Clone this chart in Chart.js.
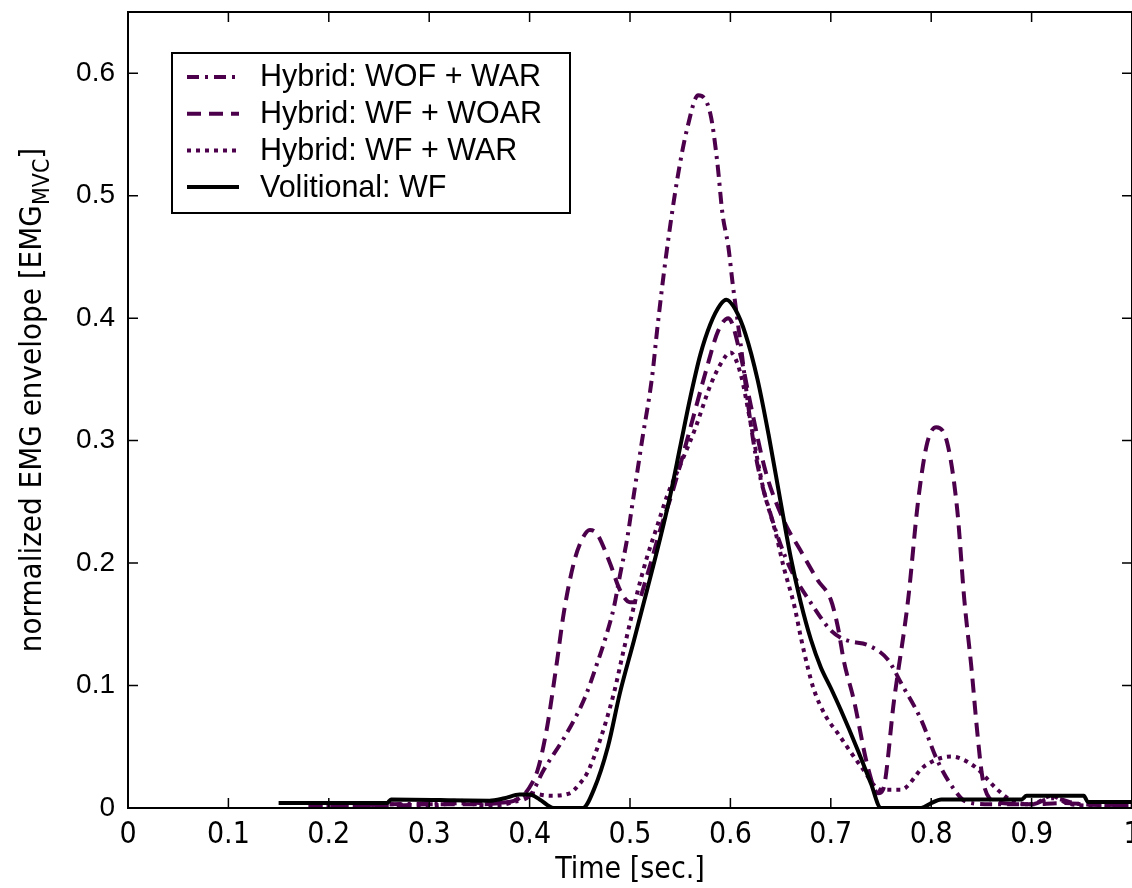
<!DOCTYPE html>
<html>
<head>
<meta charset="utf-8">
<script src="https://cdn.jsdelivr.net/npm/chart.js@4.4.1/dist/chart.umd.min.js"></script>
<style>
  html, body { margin: 0; padding: 0; background: #fff; }
  #wrap { width: 1132px; height: 888px; }
</style>
</head>
<body>
<div id="wrap"><canvas id="emg"></canvas></div>
<script>
// series names, in legend order
const seriesLabels = ['Hybrid: WOF + WAR', 'Hybrid: WF + WOAR', 'Hybrid: WF + WAR', 'Volitional: WF'];

// Hybrid: WOF + WAR (dash-dot)
const wofWarTime = [0.18, 0.22, 0.26, 0.30, 0.33, 0.35, 0.38, 0.40, 0.414, 0.437, 0.455, 0.466, 0.476, 0.484, 0.49, 0.497, 0.502, 0.507, 0.512, 0.522, 0.527, 0.535, 0.547, 0.557, 0.568, 0.58, 0.587, 0.592, 0.598, 0.602, 0.61, 0.62, 0.627, 0.64, 0.65, 0.66, 0.683, 0.70, 0.71, 0.72, 0.737, 0.757, 0.77, 0.79, 0.806, 0.823, 0.835, 0.86, 0.90, 0.92, 0.95, 1.0];
const wofWarValue = [0.002, 0.002, 0.003, 0.004, 0.006, 0.004, 0.005, 0.010, 0.031, 0.061, 0.090, 0.115, 0.140, 0.164, 0.190, 0.219, 0.246, 0.273, 0.300, 0.352, 0.390, 0.445, 0.513, 0.555, 0.582, 0.567, 0.527, 0.486, 0.458, 0.430, 0.380, 0.315, 0.280, 0.240, 0.215, 0.195, 0.164, 0.145, 0.139, 0.136, 0.133, 0.121, 0.102, 0.072, 0.039, 0.015, 0.005, 0.003, 0.003, 0.008, 0.003, 0.002];

// Hybrid: WF + WOAR (dashed)
const wfWoarTime = [0.18, 0.22, 0.26, 0.30, 0.34, 0.37, 0.39, 0.40, 0.408, 0.417, 0.427, 0.434, 0.444, 0.452, 0.46, 0.467, 0.48, 0.49, 0.50, 0.507, 0.517, 0.53, 0.543, 0.56, 0.575, 0.588, 0.598, 0.61, 0.62, 0.635, 0.653, 0.67, 0.687, 0.70, 0.707, 0.713, 0.723, 0.737, 0.747, 0.752, 0.763, 0.777, 0.787, 0.796, 0.805, 0.816, 0.826, 0.833, 0.84, 0.846, 0.851, 0.858, 0.87, 0.90, 0.93, 0.96, 1.0];
const wfWoarValue = [0.002, 0.002, 0.002, 0.003, 0.003, 0.004, 0.008, 0.017, 0.031, 0.064, 0.118, 0.159, 0.200, 0.219, 0.227, 0.224, 0.200, 0.178, 0.168, 0.168, 0.190, 0.227, 0.260, 0.310, 0.355, 0.390, 0.400, 0.370, 0.330, 0.275, 0.235, 0.210, 0.186, 0.170, 0.148, 0.120, 0.088, 0.033, 0.012, 0.015, 0.088, 0.170, 0.251, 0.298, 0.311, 0.298, 0.243, 0.170, 0.115, 0.061, 0.025, 0.008, 0.004, 0.003, 0.004, 0.003, 0.002];

// Hybrid: WF + WAR (dotted)
const wfWarTime = [0.18, 0.22, 0.26, 0.30, 0.33, 0.36, 0.38, 0.40, 0.42, 0.44, 0.45, 0.457, 0.47, 0.484, 0.494, 0.507, 0.517, 0.527, 0.537, 0.55, 0.565, 0.58, 0.592, 0.60, 0.61, 0.62, 0.633, 0.645, 0.653, 0.664, 0.67, 0.677, 0.683, 0.695, 0.707, 0.73, 0.75, 0.77, 0.793, 0.82, 0.843, 0.866, 0.88, 0.90, 0.92, 0.935, 0.96, 1.0];
const wfWarValue = [0.002, 0.002, 0.003, 0.002, 0.004, 0.002, 0.004, 0.012, 0.010, 0.012, 0.020, 0.028, 0.055, 0.094, 0.130, 0.175, 0.205, 0.230, 0.255, 0.280, 0.310, 0.345, 0.365, 0.372, 0.355, 0.315, 0.260, 0.225, 0.197, 0.164, 0.140, 0.115, 0.097, 0.075, 0.061, 0.034, 0.015, 0.015, 0.034, 0.042, 0.034, 0.015, 0.006, 0.003, 0.010, 0.004, 0.002, 0.002];

// Volitional: WF (solid)
const volTime = [0.15, 0.258, 0.262, 0.36, 0.375, 0.39, 0.40, 0.41, 0.424, 0.453, 0.464, 0.478, 0.49, 0.504, 0.517, 0.53, 0.54, 0.55, 0.56, 0.57, 0.58, 0.59, 0.596, 0.605, 0.615, 0.627, 0.638, 0.65, 0.66, 0.67, 0.68, 0.69, 0.70, 0.71, 0.727, 0.74, 0.75, 0.79, 0.80, 0.81, 0.89, 0.895, 0.952, 0.956, 1.0];
const volValue = [0.004, 0.004, 0.007, 0.006, 0.008, 0.011, 0.011, 0.007, 0.0, 0.0, 0.015, 0.050, 0.094, 0.137, 0.178, 0.220, 0.255, 0.295, 0.335, 0.370, 0.395, 0.411, 0.415, 0.407, 0.387, 0.350, 0.305, 0.250, 0.205, 0.168, 0.138, 0.115, 0.098, 0.080, 0.047, 0.020, 0.0, 0.0, 0.004, 0.007, 0.007, 0.010, 0.010, 0.005, 0.005];

// x tick labels, matlab style: 0, 0.1, ... 1
const timeTickLabels = ['0', '0.1', '0.2', '0.3', '0.4', '0.5', '0.6', '0.7', '0.8', '0.9', '1'];

const PURPLE = '#4c004c';
const TICK_FONT = '"Liberation Sans", Arial, sans-serif';
const NARROW_FONT = '"Liberation Sans Narrow", "DejaVu Sans Condensed", "Arial Narrow", sans-serif';

const toPoints = (t, v) => t.map((x, i) => ({ x: x, y: v[i] }));

const lineStyle = (color, dash) => ({
  borderColor: color,
  backgroundColor: color,
  borderWidth: 4,
  borderDash: dash,
  borderCapStyle: 'butt',
  pointRadius: 0,
  fill: false,
  cubicInterpolationMode: 'monotone'
});

const datasets = [
  { label: seriesLabels[0], data: toPoints(wofWarTime, wofWarValue), order: 1, ...lineStyle(PURPLE, [12, 6, 3, 6]) },
  { label: seriesLabels[1], data: toPoints(wfWoarTime, wfWoarValue), order: 1, ...lineStyle(PURPLE, [14, 8]) },
  { label: seriesLabels[2], data: toPoints(wfWarTime, wfWarValue), order: 1, ...lineStyle(PURPLE, [4, 5]) },
  { label: seriesLabels[3], data: toPoints(volTime, volValue), order: 0, ...lineStyle('#000', []) }
];

// box, inward ticks, legend and y title (with subscript) - matlab look
const framePlugin = {
  id: 'frame',
  afterDraw(chart) {
    const { ctx, chartArea: a, scales } = chart;
    const x = scales.x, y = scales.y;
    ctx.save();
    ctx.strokeStyle = '#000';
    ctx.lineWidth = 2;
    ctx.setLineDash([]);
    ctx.strokeRect(a.left, a.top, a.right - a.left, a.bottom - a.top);

    ctx.lineWidth = 1.5;
    ctx.beginPath();
    x.ticks.forEach(t => {
      const px = x.getPixelForValue(t.value);
      ctx.moveTo(px, a.bottom); ctx.lineTo(px, a.bottom - 10);
      ctx.moveTo(px, a.top); ctx.lineTo(px, a.top + 10);
    });
    y.ticks.forEach(t => {
      const py = y.getPixelForValue(t.value);
      ctx.moveTo(a.left, py); ctx.lineTo(a.left + 10, py);
      ctx.moveTo(a.right, py); ctx.lineTo(a.right - 10, py);
    });
    ctx.stroke();

    // legend
    const lx = a.left + 44, ly = a.top + 41, lw = 398, lh = 160;
    ctx.fillStyle = '#fff';
    ctx.fillRect(lx, ly, lw, lh);
    ctx.lineWidth = 2;
    ctx.strokeRect(lx, ly, lw, lh);
    ctx.font = '30.5px ' + TICK_FONT;
    ctx.textBaseline = 'middle';
    ctx.textAlign = 'left';
    chart.data.datasets.forEach((ds, i) => {
      const cy = ly + 24 + i * 36.7;
      ctx.strokeStyle = ds.borderColor;
      ctx.lineWidth = ds.borderWidth;
      ctx.lineCap = 'butt';
      ctx.setLineDash(ds.borderDash);
      ctx.beginPath();
      ctx.moveTo(lx + 15, cy);
      ctx.lineTo(lx + 67, cy);
      ctx.stroke();
      ctx.setLineDash([]);
      ctx.fillStyle = '#000';
      ctx.fillText(ds.label, lx + 88, cy + 1);
    });

    // y axis title
    const main = 'normalized EMG envelope [EMG';
    const sub = 'MVC';
    const tail = ']';
    ctx.font = '31px ' + NARROW_FONT;
    const wMain = ctx.measureText(main).width;
    const wTail = ctx.measureText(tail).width;
    ctx.font = '23px ' + NARROW_FONT;
    const wSub = ctx.measureText(sub).width;
    const total = wMain + wSub + wTail;
    ctx.translate(33, (a.top + a.bottom) / 2 - 10);
    ctx.rotate(-Math.PI / 2);
    ctx.fillStyle = '#000';
    ctx.textBaseline = 'middle';
    let cx = -total / 2;
    ctx.font = '31px ' + NARROW_FONT;
    ctx.fillText(main, cx, 0);
    cx += wMain;
    ctx.font = '23px ' + NARROW_FONT;
    ctx.fillText(sub, cx, 10);
    cx += wSub;
    ctx.font = '31px ' + NARROW_FONT;
    ctx.fillText(tail, cx, 0);
    ctx.restore();
  }
};

new Chart(document.getElementById('emg'), {
  type: 'line',
  data: { datasets: datasets },
  options: {
    responsive: true,
    maintainAspectRatio: false,
    animation: false,
    layout: { autoPadding: false, padding: { left: 0, right: 0, top: 12, bottom: 0 } },
    plugins: { legend: { display: false }, tooltip: { enabled: false } },
    scales: {
      x: {
        type: 'linear',
        min: 0,
        max: 1,
        grid: { display: false, drawTicks: false },
        border: { display: false },
        ticks: {
          stepSize: 0.1,
          padding: 9,
          color: '#000',
          maxRotation: 0,
          font: { family: NARROW_FONT, size: 30 },
          callback: (v, i) => timeTickLabels[i]
        },
        title: {
          display: true,
          text: 'Time [sec.]',
          color: '#000',
          padding: { top: 0, bottom: 0 },
          font: { family: NARROW_FONT, size: 30, lineHeight: 1.2 }
        },
        afterFit: s => { s.height = 80; s.paddingLeft = 0; s.paddingRight = 0; }
      },
      y: {
        min: 0,
        max: 0.65,
        grid: { display: false, drawTicks: false },
        border: { display: false },
        ticks: {
          stepSize: 0.1,
          includeBounds: false,
          padding: 13,
          color: '#000',
          font: { family: TICK_FONT, size: 28 }
        },
        afterFit: s => { s.width = 128; s.paddingTop = 0; s.paddingBottom = 0; }
      }
    }
  },
  plugins: [framePlugin]
});
</script>
</body>
</html>
